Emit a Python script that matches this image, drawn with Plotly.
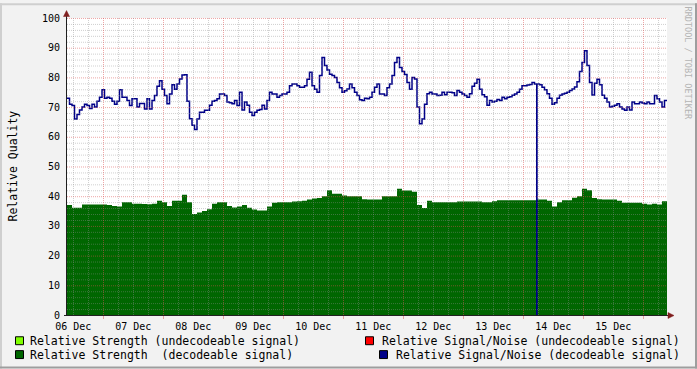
import plotly.graph_objects as go

# ---------------- data ----------------
# time axis in hours relative to 06 Dec 00:00
START_HOUR = -2.5
END_HOUR = 237.5
STRENGTH_STEP_HOURS = 2.0   # strength samples every 2 h
SNR_STEP_HOURS = 1.0        # S/N samples every 1 h

day_labels = ["06 Dec", "07 Dec", "08 Dec", "09 Dec", "10 Dec",
              "11 Dec", "12 Dec", "13 Dec", "14 Dec", "15 Dec"]
day_label_hours = [0, 24, 48, 72, 96, 120, 144, 168, 192, 216]

y_tick_values = [0, 10, 20, 30, 40, 50, 60, 70, 80, 90, 100]

# Relative Strength (decodeable signal), 2-hour steps
strength_decodeable = [
    37, 36.1, 36.1, 37.2, 37.2, 37.2, 37.2, 37.2, 37, 36.7,
    36.5, 38, 38, 37.5, 37.5, 37.4, 37.3, 37.5, 38.5, 38,
    36.7, 38.5, 38.5, 40.5, 38, 34, 34.5, 35, 35.6, 37.5,
    38, 38, 36.7, 36.2, 36.5, 37, 36.1, 35.5, 35.2, 35.2,
    36.5, 37.8, 38, 38, 38, 38.2, 38.3, 38.5, 38.9, 39.2,
    39.4, 40, 42, 40.8, 40.8, 40.2, 40, 40, 40, 39,
    38.9, 38.9, 38.9, 40, 40, 40, 42.5, 41.9, 41.9, 41.5,
    37, 36, 38.5, 38, 38, 38, 38, 38, 38.2, 38.2,
    38.2, 38.2, 38.2, 38, 38, 38.3, 38.6, 38.6, 38.6, 38.6,
    38.6, 38.6, 38.6, 38.6, 38.9, 38.9, 38.5, 36.5, 38, 38.6,
    38.6, 39.5, 40, 42.5, 42, 39.4, 39, 38.9, 38.9, 38.9,
    38.5, 37.8, 37.8, 37.8, 37.8, 37.5, 37.2, 37.5, 37.2, 38.3,
]

# Relative Signal/Noise (decodeable signal), 1-hour steps
snr_decodeable = [
    73, 71, 70.5, 66, 67.5, 69, 70, 71, 70.5, 69.5,
    71, 70, 72, 73.3, 75.8, 73, 73.3, 73, 72, 71,
    72, 75.8, 73.3, 73.3, 72.2, 70.5, 72.8, 72.8, 70, 71.2,
    71.2, 69.4, 72.8, 69.4, 72.2, 73.9, 77, 78.9, 76, 73.9,
    71.1, 74.4, 77.5, 76, 77.8, 79.5, 80.8, 80.9, 72, 66.1,
    63.9, 62.5, 66, 68.3, 68.3, 68.9, 68.9, 70.6, 72, 72.2,
    72.8, 74.4, 74.4, 73.9, 71.7, 71.5, 71.1, 72.2, 70.5, 75,
    69, 71.7, 70.6, 68.3, 67.2, 68.3, 68.9, 69.2, 70.6, 69.4,
    72.2, 75, 74.4, 74.4, 73.3, 73.9, 74.4, 74.4, 75, 77.2,
    77.8, 77.8, 77.2, 76.7, 76.7, 77.2, 79.4, 81.7, 77.2, 76,
    75, 80.6, 86.7, 84, 82.5, 81.1, 80.6, 80, 78.3, 76.5,
    75, 75.5, 76.1, 77.8, 76.5, 75, 73.9, 72.5, 72.2, 73,
    72.8, 73.3, 75, 76.7, 77.8, 74.4, 74.4, 73.9, 76.5, 77.8,
    80.6, 85, 86.7, 83.3, 82, 81, 78.3, 76, 80, 79.5,
    70, 64.4, 66, 71, 74.5, 75, 74.4, 74.4, 73.9, 74,
    75, 74.2, 75, 75, 74.8, 73.9, 75.6, 75, 74.4, 73.9,
    73.3, 74.5, 77, 78, 79.4, 76, 74.2, 73.5, 70.6, 72.2,
    71.7, 72, 72.6, 72.2, 73.3, 72.8, 73.3, 73.5, 74, 74.4,
    75, 76, 77.2, 77.2, 77.4, 77.6, 78.3, 77.8, 77.8, 77.5,
    76.7, 75.8, 74.5, 73, 71, 71.5, 73, 74, 74.4, 74.7,
    75, 75.6, 76.1, 76.8, 78.5, 82, 85, 89, 84, 78.3,
    74.1, 78, 79.4, 77.5, 74, 73, 71.7, 70, 70.3, 70.6,
    71.1, 70, 69.4, 68.9, 70, 69, 71.7, 71.1, 71.1, 71.7,
    71.4, 71.1, 71.7, 71.1, 71.1, 73.9, 72.8, 71.7, 70, 72.2,
]
# short drop-out of the S/N reading
snr_dropout_hours = [185.4]
snr_dropout_values = [0]
SNR_DROPOUT_LEN = 0.4

# undecodeable series have no data in this period
strength_undecodeable = []
snr_undecodeable = []

# ---------------- colours ----------------
C_BACK = "#f2f2f2"
C_SHADEA = "#cfcfcf"
C_SHADEB = "#9e9e9e"
C_GRID = "rgba(143,143,143,0.42)"
C_MGRID = "rgba(222,79,79,0.5)"
C_AXIS = "#1f1f1f"
C_ARROW = "#801f1f"
C_STR_UNDEC = "#80ff00"
C_STR_DEC = "#006600"
C_SNR_UNDEC = "#ff0000"
C_SNR_DEC = "#000088"
FONT = "DejaVu Sans Mono"

# ---------------- geometry ----------------
W, H = 697, 369
L, R, T, B = 67, 667, 15, 315


def px_x(p):
    return (p - L) / (R - L)


def px_y(p):
    return (B - p) / (B - T)


def hour_to_px(h):
    return L + (h - START_HOUR) * (R - L) / (END_HOUR - START_HOUR)


# ---------------- build series ----------------
s_hours = [START_HOUR + STRENGTH_STEP_HOURS * i for i in range(len(strength_decodeable))]
s_x = s_hours + [END_HOUR]
s_y = strength_decodeable + [strength_decodeable[-1]]

n_hours = [START_HOUR + SNR_STEP_HOURS * i for i in range(len(snr_decodeable))]
pts = list(zip(n_hours, snr_decodeable))
for dh, dv in zip(snr_dropout_hours, snr_dropout_values):
    idx = max(i for i, h in enumerate(n_hours) if h <= dh + SNR_DROPOUT_LEN)
    pts.append((dh, dv))
    pts.append((dh + SNR_DROPOUT_LEN, snr_decodeable[idx]))
pts.sort(key=lambda p: p[0])
n_x = [p[0] for p in pts] + [END_HOUR]
n_y = [p[1] for p in pts] + [snr_decodeable[-1]]

fig = go.Figure()
fig.add_trace(go.Scatter(
    x=s_x, y=s_y, mode="lines", line=dict(width=0, shape="hv"),
    fill="tozeroy", fillcolor=C_STR_DEC, showlegend=False, hoverinfo="skip",
    name="Relative Strength  (decodeable signal)"))
fig.add_trace(go.Scatter(
    x=n_x, y=n_y, mode="lines", line=dict(width=1.5, shape="hv", color=C_SNR_DEC),
    showlegend=False, hoverinfo="skip",
    name="Relative Signal/Noise (decodeable signal)"))

shapes = []
# horizontal grid
for v in range(2, 101, 2):
    row = B - 3 * v + 0.5
    col = C_MGRID if v % 10 == 0 else C_GRID
    shapes.append(dict(type="line", xref="paper", yref="paper",
                       x0=px_x(L), x1=px_x(R), y0=px_y(row), y1=px_y(row),
                       line=dict(color=col, width=1, dash="1px,1px"), layer="above"))
# vertical grid every 6 h, major at noon
h = 0
while h < END_HOUR:
    p = int(hour_to_px(h)) + 0.5
    major = (h % 24) == 12
    col = C_MGRID if major else C_GRID
    shapes.append(dict(type="line", xref="paper", yref="paper",
                       x0=px_x(p), x1=px_x(p), y0=px_y(T), y1=px_y(B),
                       line=dict(color=col, width=1, dash="1px,1px"), layer="above"))
    if major:
        shapes.append(dict(type="line", xref="paper", yref="paper",
                           x0=px_x(p), x1=px_x(p), y0=px_y(316), y1=px_y(319),
                           line=dict(color=C_MGRID, width=1), layer="above"))
    h += 6
# axes
shapes.append(dict(type="line", xref="paper", yref="paper",
                   x0=px_x(66.5), x1=px_x(66.5), y0=px_y(316), y1=px_y(11),
                   line=dict(color=C_AXIS, width=1), layer="above"))
shapes.append(dict(type="line", xref="paper", yref="paper",
                   x0=px_x(64), x1=px_x(669), y0=px_y(315.5), y1=px_y(315.5),
                   line=dict(color=C_AXIS, width=1), layer="above"))
# arrows
shapes.append(dict(type="path", xref="paper", yref="paper", layer="above",
                   path="M {} {} L {} {} L {} {} Z".format(
                       px_x(63.5), px_y(13.5), px_x(69.5), px_y(13.5), px_x(66.5), px_y(7.5)),
                   fillcolor=C_ARROW, line=dict(color=C_ARROW, width=0.5)))
shapes.append(dict(type="path", xref="paper", yref="paper", layer="above",
                   path="M {} {} L {} {} L {} {} Z".format(
                       px_x(668), px_y(312.5), px_x(668), px_y(318.5), px_x(674), px_y(315.5)),
                   fillcolor=C_ARROW, line=dict(color=C_ARROW, width=0.5)))
# frame shading
shapes.append(dict(type="rect", xref="paper", yref="paper", layer="above",
                   x0=px_x(0), x1=px_x(W), y0=px_y(0), y1=px_y(2),
                   fillcolor=C_SHADEA, line=dict(width=0)))
shapes.append(dict(type="rect", xref="paper", yref="paper", layer="above",
                   x0=px_x(0), x1=px_x(2), y0=px_y(0), y1=px_y(H),
                   fillcolor=C_SHADEA, line=dict(width=0)))
shapes.append(dict(type="rect", xref="paper", yref="paper", layer="above",
                   x0=px_x(0), x1=px_x(W), y0=px_y(H - 2), y1=px_y(H),
                   fillcolor=C_SHADEB, line=dict(width=0)))
shapes.append(dict(type="rect", xref="paper", yref="paper", layer="above",
                   x0=px_x(W - 2), x1=px_x(W), y0=px_y(0), y1=px_y(H),
                   fillcolor=C_SHADEB, line=dict(width=0)))

# legend
legend_items = [
    ("Relative Strength (undecodeable signal)", C_STR_UNDEC, 15.5, 341, "left"),
    ("Relative Strength  (decodeable signal)", C_STR_DEC, 15.5, 355, "left"),
    ("Relative Signal/Noise (undecodeable signal)", C_SNR_UNDEC, 365.5, 341, "right"),
    ("Relative Signal/Noise (decodeable signal)", C_SNR_DEC, 379.5, 355, "right"),
]
annotations = []
for text, col, sx, cy, side in legend_items:
    shapes.append(dict(type="rect", xref="paper", yref="paper", layer="above",
                       x0=px_x(sx), x1=px_x(sx + 8), y0=px_y(cy - 4), y1=px_y(cy + 4),
                       fillcolor=col, line=dict(color="#000000", width=1)))
    if side == "left":
        annotations.append(dict(text=text, xref="paper", yref="paper",
                                x=px_x(sx + 13), y=px_y(cy), xanchor="left", yanchor="middle",
                                showarrow=False, borderpad=0,
                                font=dict(family=FONT, size=11.5, color="#000000")))
    else:
        annotations.append(dict(text=text, xref="paper", yref="paper",
                                x=px_x(681), y=px_y(cy), xanchor="right", yanchor="middle",
                                showarrow=False, borderpad=0,
                                font=dict(family=FONT, size=11.5, color="#000000")))

annotations.append(dict(text="Relative Quality", xref="paper", yref="paper",
                        x=px_x(12), y=px_y(165), xanchor="center", yanchor="middle",
                        textangle=-90, showarrow=False,
                        font=dict(family=FONT, size=11.5, color="#000000")))
annotations.append(dict(text="RRDTOOL / TOBI OETIKER", xref="paper", yref="paper",
                        x=px_x(688), y=px_y(60), xanchor="center", yanchor="middle",
                        textangle=90, showarrow=False,
                        font=dict(family=FONT, size=8.5, color="#b4b4b4")))

fig.update_layout(
    width=W, height=H,
    margin=dict(l=L, r=W - R, t=T, b=H - B, pad=0),
    paper_bgcolor=C_BACK, plot_bgcolor="#ffffff",
    showlegend=False,
    shapes=shapes,
    annotations=annotations,
    xaxis=dict(range=[START_HOUR, END_HOUR], showgrid=False, zeroline=False,
               tickmode="array", tickvals=day_label_hours, ticktext=day_labels,
               ticks="outside", ticklen=2, tickcolor="rgba(0,0,0,0)",
               tickfont=dict(family=FONT, size=10, color="#000000"),
               showline=False, fixedrange=True),
    yaxis=dict(range=[0, 100], showgrid=False, zeroline=False,
               tickmode="array", tickvals=y_tick_values,
               ticks="outside", ticklen=4, tickcolor="rgba(0,0,0,0)",
               tickfont=dict(family=FONT, size=10, color="#000000"),
               showline=False, fixedrange=True),
)

fig.write_html("out.html")
